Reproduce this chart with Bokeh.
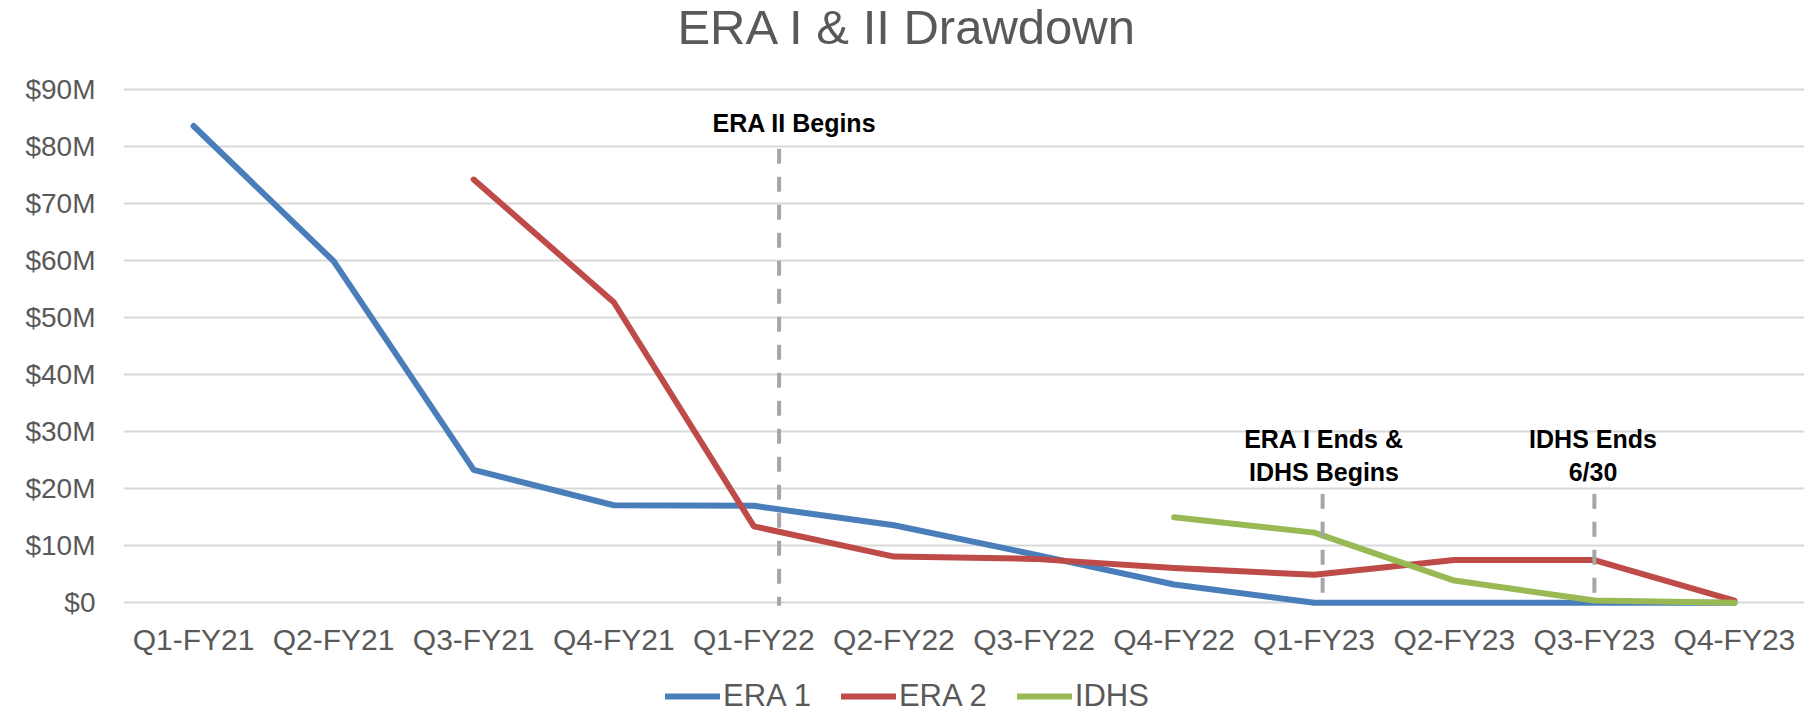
from bokeh.plotting import figure
from bokeh.layouts import column
from bokeh.models import (FactorRange, Range1d, FixedTicker, Label, Legend,
                          LegendItem, ColumnDataSource)
from bokeh.embed import file_html
from bokeh.resources import INLINE

# ---------------- data ----------------
categories = ["Q1-FY21", "Q2-FY21", "Q3-FY21", "Q4-FY21", "Q1-FY22", "Q2-FY22",
              "Q3-FY22", "Q4-FY22", "Q1-FY23", "Q2-FY23", "Q3-FY23", "Q4-FY23"]

era1_cats = categories
era1_vals = [83.6, 59.9, 23.3, 17.1, 17.0, 13.6, 8.5, 3.2, 0.0, 0.0, 0.0, 0.0]

era2_cats = categories[2:]
era2_vals = [74.2, 52.7, 13.4, 8.1, 7.7, 6.1, 4.9, 7.5, 7.5, 0.4]

idhs_cats = categories[7:]
idhs_vals = [15.0, 12.3, 3.9, 0.4, 0.0]

y_ticks = [0, 10, 20, 30, 40, 50, 60, 70, 80, 90]
y_tick_labels = ["$0", "$10M", "$20M", "$30M", "$40M", "$50M", "$60M",
                 "$70M", "$80M", "$90M"]

series_names = ["ERA 1", "ERA 2", "IDHS"]
series_colors = ["#4A7EBB", "#BE4B48", "#98B954"]

title_text = "ERA I & II Drawdown"

# milestone markers (dashed lines) and their notes
milestone_cats = ["Q1-FY22", "Q1-FY23", "Q3-FY23"]
milestone_offsets = [0.18, 0.06, 0.0]
milestone_tops = [79.6, 19.1, 19.1]
note_lines = [["ERA II Begins"], ["ERA I Ends &", "IDHS Begins"], ["IDHS Ends", "6/30"]]
note_offsets = [0.29, 0.07, -0.01]
note_baselines = [[84.2], [28.8, 22.9], [28.8, 22.9]]

# ---------------- main figure ----------------
GRAY_TEXT = "#595959"
FONT = "Liberation Sans"
W = 1811
MAIN_H = 659
LEGEND_H = 56

# the frame reaches the top edge so that the chart title can sit inside it
p = figure(width=W, height=MAIN_H,
           x_range=FactorRange(factors=categories, range_padding=0),
           y_range=Range1d(-1, 105.6),
           output_backend="svg", toolbar_location=None,
           min_border_left=123, min_border_right=7,
           min_border_top=0, min_border_bottom=51)
p.outline_line_color = None
p.background_fill_color = "white"
p.border_fill_color = "white"

# axes
p.yaxis.ticker = FixedTicker(ticks=y_ticks)
p.yaxis.major_label_overrides = {t: l for t, l in zip(y_ticks, y_tick_labels)}
p.yaxis.axis_line_color = None
p.yaxis.major_tick_line_color = None
p.yaxis.minor_tick_line_color = None
p.yaxis.major_tick_out = 0
p.yaxis.major_label_standoff = 28
p.yaxis.major_label_text_font = FONT
p.yaxis.major_label_text_font_size = "28px"
p.yaxis.major_label_text_color = GRAY_TEXT

p.xaxis.axis_line_color = None
p.xaxis.major_tick_line_color = None
p.xaxis.minor_tick_line_color = None
p.xaxis.major_tick_out = 0
p.xaxis.major_label_standoff = 14
p.xaxis.major_label_text_font = FONT
p.xaxis.major_label_text_font_size = "30px"
p.xaxis.major_label_text_color = GRAY_TEXT

p.ygrid.ticker = FixedTicker(ticks=y_ticks)
p.ygrid.grid_line_color = "#D9D9D9"
p.ygrid.grid_line_width = 2
p.xgrid.grid_line_color = None

# series
line_style = dict(line_width=6, line_cap="round", line_join="round")
series = list(zip([era1_cats, era2_cats, idhs_cats],
                  [era1_vals, era2_vals, idhs_vals], series_colors))
for cats, vals, color in series:
    src = ColumnDataSource(dict(x=cats, y=vals))
    p.line(x="x", y="y", source=src, line_color=color, **line_style)

# milestone dashed lines
mx = [categories.index(c) + 0.5 + o for c, o in zip(milestone_cats, milestone_offsets)]
p.segment(x0=mx, y0=milestone_tops, x1=mx, y1=[-0.5] * len(mx),
          line_color="#A6A6A6", line_width=4, line_dash="15 13")

# notes
for c, o, lines, bases in zip(milestone_cats, note_offsets, note_lines, note_baselines):
    xpos = categories.index(c) + 0.5 + o
    for txt, yb in zip(lines, bases):
        p.add_layout(Label(x=xpos, y=yb, text=txt, text_font=FONT,
                           text_font_style="bold", text_font_size="25px",
                           text_color="black", text_align="center",
                           text_baseline="alphabetic"))

# chart title
p.add_layout(Label(x=5.597, y=100.9, text=title_text, text_font=FONT,
                   text_font_size="49px", text_color=GRAY_TEXT,
                   text_align="center", text_baseline="alphabetic"))

# ---------------- legend strip (below the chart) ----------------
lg = figure(width=W, height=LEGEND_H, x_range=p.x_range, y_range=Range1d(200, 256),
            output_backend="svg", toolbar_location=None,
            x_axis_type=None, y_axis_type=None,
            min_border_left=0, min_border_right=0, min_border_top=0, min_border_bottom=0)
lg.outline_line_color = None
lg.xgrid.grid_line_color = None
lg.ygrid.grid_line_color = None
# same series drawn outside the strip's visible range: they only supply the legend keys
legend_renderers = []
for cats, vals, color in series:
    src = ColumnDataSource(dict(x=cats, y=vals))
    legend_renderers.append(lg.line(x="x", y="y", source=src, line_color=color, **line_style))

legend = Legend(items=[LegendItem(label=n, renderers=[r])
                       for n, r in zip(series_names, legend_renderers)],
                orientation="horizontal", location=(542, 1),
                padding=0, margin=0, spacing=30, label_standoff=3,
                glyph_width=55, glyph_height=34, label_height=34,
                label_text_font=FONT, label_text_font_size="31px",
                label_text_color=GRAY_TEXT, border_line_color=None,
                background_fill_alpha=0)
lg.add_layout(legend)

layout = column(p, lg, spacing=0)
open("out.html", "w").write(file_html(layout, INLINE))
